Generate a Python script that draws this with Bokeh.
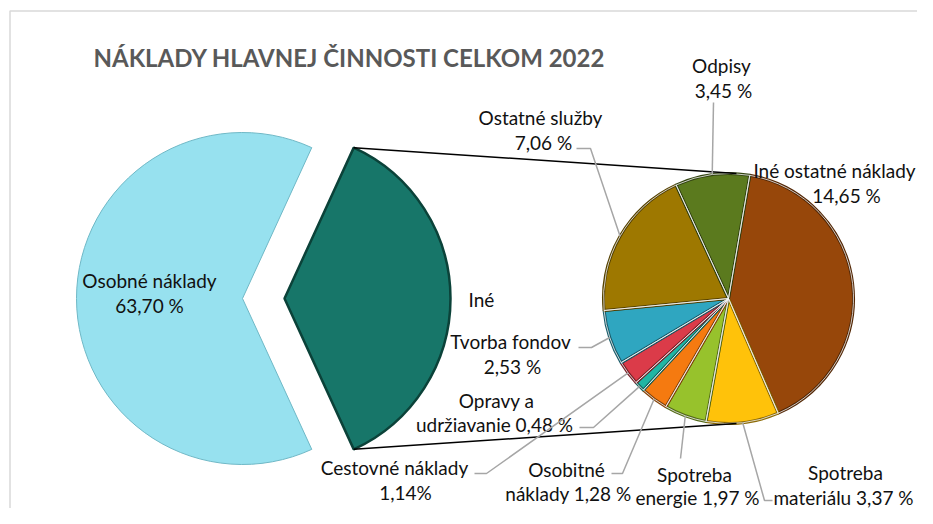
import math
from bokeh.plotting import figure
from bokeh.models import Range1d
from bokeh.core.properties import value
from bokeh.embed import file_html
from bokeh.resources import INLINE

# ---------------- data ----------------
title = "NÁKLADY HLAVNEJ ČINNOSTI CELKOM 2022"
main_categories = ["Osobné náklady", "Iné"]
main_values = [63.70, 36.30]

sub_categories = ["Iné ostatné náklady", "Spotreba materiálu", "Spotreba energie",
                  "Osobitné náklady", "Opravy a udržiavanie", "Cestovné náklady",
                  "Tvorba fondov", "Ostatné služby", "Odpisy"]
sub_values = [14.65, 3.37, 1.97, 1.28, 0.48, 1.14, 2.53, 7.06, 3.45]

# ---------------- styles ----------------
main_colors = ["#97E1EF", "#177669"]
main_edges = ["#6FB8C6", "#0B4239"]
sub_colors = ["#97470A", "#FFC20A", "#97C22C", "#F57A10", "#1FB5A4",
              "#DB3B49", "#2FA6C0", "#9E7800", "#5B7A1E"]

def darker(h, f=0.55):
    h = h.lstrip("#")
    r, g, b = (int(h[i:i + 2], 16) for i in (0, 2, 4))
    return "#%02x%02x%02x" % (int(r * f), int(g * f), int(b * f))

FONT = "Lato"
LABEL_SIZE = "19px"
TEXT_COLOR = "#111111"
W, H = 917, 508

# picture pixel -> data coordinates (y up)
def Y(sy):
    return H - sy

def fmt(v, space=True):
    s = f"{v:.2f}".replace(".", ",")
    return s + (" %" if space else "%")

p = figure(width=W, height=H, output_backend="svg", toolbar_location=None,
           x_range=Range1d(0, W), y_range=Range1d(0, H), min_border=0)
p.axis.visible = False
p.grid.visible = False
p.outline_line_color = None
p.background_fill_color = "white"

# chart frame
p.line([9.5, 9.5, W + 10], [Y(H + 10), Y(10.5), Y(10.5)], line_color="#D9D9D9", line_width=1.5)

# title
p.text(x=[93], y=[Y(57)], text=[title], text_font=value(FONT), text_font_style="bold",
       text_font_size="24px", text_color="#595959", text_align="left", text_baseline="middle")

# ---------------- main pie ----------------
BIG_CX, BIG_CY, BIG_R, EXPLODE = 242, Y(298), 166, 42
tot = sum(main_values)
half = main_values[1] / tot * math.pi
p.wedge(x=[BIG_CX], y=[BIG_CY], radius=BIG_R, start_angle=half, end_angle=2 * math.pi - half,
        fill_color=main_colors[0], line_color=main_edges[0], line_width=1)
ex_cx = BIG_CX + EXPLODE
p.wedge(x=[ex_cx], y=[BIG_CY], radius=BIG_R, start_angle=-half, end_angle=half,
        fill_color=main_colors[1], line_color=main_edges[1], line_width=2.5)

# ---------------- secondary pie ----------------
SM_CX, SM_CY, SM_R = 728, Y(298), 125
START = math.radians(80.2)
sub_tot = sum(sub_values)
angles = []
a = START
for v in sub_values:
    span = v / sub_tot * 2 * math.pi
    angles.append((a - span, a))
    a -= span

n = len(sub_values)
p.wedge(x=[SM_CX] * n, y=[SM_CY] * n, radius=SM_R,
        start_angle=[s for s, e in angles], end_angle=[e for s, e in angles],
        fill_color=sub_colors, line_color=[darker(c) for c in sub_colors], line_width=3)
p.wedge(x=[SM_CX] * n, y=[SM_CY] * n, radius=SM_R,
        start_angle=[s for s, e in angles], end_angle=[e for s, e in angles],
        fill_color=None, line_color="#F2F2F2", line_width=0.8)

# connector lines
CONN_DX = 8
tx, ty = ex_cx + BIG_R * math.cos(half), BIG_CY + BIG_R * math.sin(half)
bx, by = ex_cx + BIG_R * math.cos(-half), BIG_CY + BIG_R * math.sin(-half)
p.line([tx, SM_CX + CONN_DX], [ty, SM_CY + SM_R], line_color="black", line_width=1.5)
p.line([bx, SM_CX + CONN_DX], [by, SM_CY - SM_R], line_color="black", line_width=1.5)

def put(lines):
    for (txt, sx, sy, align) in lines:
        p.text(x=[sx], y=[Y(sy)], text=[txt], text_font=value(FONT), text_font_size=LABEL_SIZE,
               text_color=TEXT_COLOR, text_align=align, text_baseline="middle")

# main labels
put([(main_categories[0], 149, 280, "center"),
     (fmt(main_values[0]), 149, 305, "center"),
     (main_categories[1], 468, 299, "left")])

# secondary labels: lines + leader elbow points (picture coords)
v = dict(zip(sub_categories, sub_values))
sub_layout = {
    "Iné ostatné náklady": ([("Iné ostatné náklady", 834, 170), (fmt(v["Iné ostatné náklady"]), 846, 195)], []),
    "Spotreba materiálu": ([("Spotreba", 845, 472), ("materiálu " + fmt(v["Spotreba materiálu"]), 843, 497)],
                           [(764, 500), (772, 500)]),
    "Spotreba energie": ([("Spotreba", 694, 474), ("energie " + fmt(v["Spotreba energie"]), 697, 497)],
                         [(680, 458)]),
    "Osobitné náklady": ([("Osobitné", 566, 469), ("náklady " + fmt(v["Osobitné náklady"]), 568, 493)],
                         [(622, 473), (611, 473)]),
    "Opravy a udržiavanie": ([("Opravy a", 496, 400), ("udržiavanie " + fmt(v["Opravy a udržiavanie"]), 494, 424)],
                             [(593, 427), (579, 427)]),
    "Cestovné náklady": ([("Cestovné náklady", 394, 467), (fmt(v["Cestovné náklady"], space=False), 405, 492)],
                         [(486, 473), (474, 473)]),
    "Tvorba fondov": ([("Tvorba fondov", 510, 341), (fmt(v["Tvorba fondov"]), 512, 366)],
                      [(591, 347), (578, 347)]),
    "Ostatné služby": ([("Ostatné služby", 540, 117), (fmt(v["Ostatné služby"]), 543, 142)],
                       [(590, 148), (576, 148)]),
    "Odpisy": ([("Odpisy", 721, 65), (fmt(v["Odpisy"]), 723, 90)], [(713, 102)]),
}

for cat, (s, e) in zip(sub_categories, angles):
    lines, elbows = sub_layout[cat]
    put([(t, x, y, "center") for (t, x, y) in lines])
    if elbows:
        mid = (s + e) / 2
        xs = [SM_CX + SM_R * math.cos(mid)] + [ex for ex, ey in elbows]
        ys = [SM_CY + SM_R * math.sin(mid)] + [Y(ey) for ex, ey in elbows]
        p.line(xs, ys, line_color="#A6A6A6", line_width=1.5)

open("out.html", "w").write(file_html(p, INLINE))
